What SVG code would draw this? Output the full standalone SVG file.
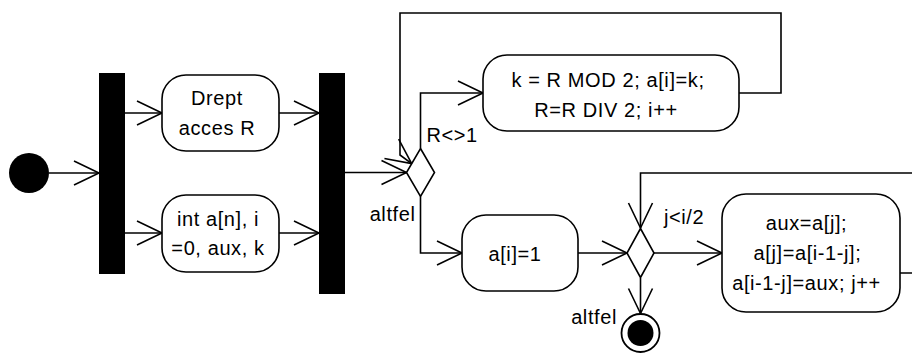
<svg xmlns="http://www.w3.org/2000/svg" width="912" height="354" viewBox="0 0 912 354">
<defs>
<style>
.act{fill:#fff;stroke:#000;stroke-width:1.6}
.bar{fill:#000}
.dec{fill:#fff;stroke:#000;stroke-width:1.6}
.edge{fill:none;stroke:#000;stroke-width:1.6;marker-end:url(#arr)}
.loop{fill:none;stroke:#000;stroke-width:1.6}
text{font-family:"Liberation Sans",Arial,sans-serif;font-size:20px;fill:#000;letter-spacing:0.6px}
.c{text-anchor:middle}
.e{text-anchor:end}
</style>
<marker id="arr" markerUnits="userSpaceOnUse" viewBox="-27 -14 29 28" refX="0" refY="0" markerWidth="29" markerHeight="28" orient="auto">
<path d="M-25,-12 L0,0 L-25,12" fill="none" stroke="#000" stroke-width="1.6"/>
</marker>
</defs>
<rect width="912" height="354" fill="#fff"/>
<g id="connectors">
<path class="edge" d="M49,173 H99"/>
<path class="edge" d="M125,113 H162"/>
<path class="edge" d="M125,233 H162"/>
<path class="edge" d="M279,113 H319"/>
<path class="edge" d="M279,233 H319"/>
<path class="edge" d="M345,172.5 H406.5"/>
<path class="edge" d="M420.5,148.5 V93 H483"/>
<path class="edge" d="M739,93 H781 V13 H400 V155 L411.7,163.6"/>
<path class="edge" d="M420.5,196.5 V253 H462"/>
<path class="edge" d="M578,253 H627"/>
<path class="edge" d="M654,253 H722"/>
<path class="edge" d="M900,273 H930 V173 H640.5 V228"/>
<path class="edge" d="M640.5,278 V313.5"/>
<text x="426.5" y="141.5">R&lt;&gt;1</text>
<text class="e" x="415.5" y="221">altfel</text>
<text x="664" y="223.5">j&lt;i/2</text>
<text class="e" x="617" y="323.5">altfel</text>
</g>
<g id="start"><circle cx="29" cy="173" r="20" fill="#000"/></g>
<g id="fork1"><rect class="bar" x="99" y="73" width="26" height="201"/></g>
<g id="drept">
<rect class="act" x="162" y="75" width="117" height="76" rx="24" ry="24"/>
<text class="c" x="217" y="105.3">Drept</text>
<text class="c" x="217" y="134.7">acces R</text>
</g>
<g id="decl">
<rect class="act" x="162" y="195" width="117" height="77" rx="24" ry="24"/>
<text class="c" x="218" y="225.5">int a[n], i</text>
<text class="c" x="218" y="255">=0, aux, k</text>
</g>
<g id="join1"><rect class="bar" x="319" y="73" width="26" height="221"/></g>
<g id="dec1"><polygon class="dec" points="420.5,148.5 434.5,172.5 420.5,196.5 406.5,172.5"/></g>
<g id="conv">
<rect class="act" x="483" y="55" width="256" height="76" rx="24" ry="24"/>
<text class="c" x="608" y="87.3">k = R MOD 2; a[i]=k;</text>
<text class="c" x="606" y="116.7">R=R DIV 2; i++</text>
</g>
<g id="init">
<rect class="act" x="462" y="215" width="116" height="76" rx="24" ry="24"/>
<text class="c" x="515" y="260.7">a[i]=1</text>
</g>
<g id="dec2"><polygon class="dec" points="640.5,228.5 654,253 640.5,277.5 627,253"/></g>
<g id="swap">
<rect class="act" x="722" y="194" width="178" height="118" rx="24" ry="24"/>
<text class="c" x="806.5" y="230">aux=a[j];</text>
<text class="c" x="807.5" y="260">a[j]=a[i-1-j];</text>
<text class="c" x="806.5" y="289.5">a[i-1-j]=aux; j++</text>
</g>
<g id="end">
<circle cx="640.5" cy="333" r="19" fill="#fff" stroke="#000" stroke-width="1.8"/>
<circle cx="640.5" cy="333" r="13" fill="#000"/>
</g>
</svg>
